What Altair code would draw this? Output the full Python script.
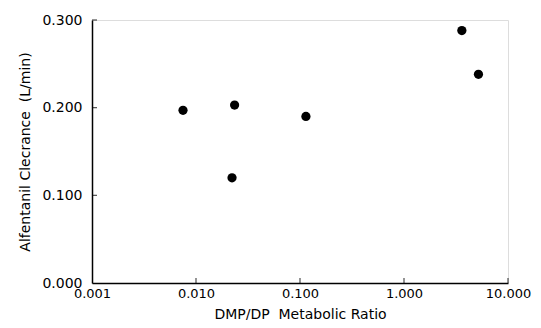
import altair as alt
import pandas as pd

ratio = [0.0075, 0.0235, 0.0222, 0.114, 3.6, 5.2]
clearance = [0.197, 0.203, 0.120, 0.190, 0.288, 0.238]
x_ticks = [0.001, 0.01, 0.1, 1.0, 10.0]
y_ticks = [0.0, 0.1, 0.2, 0.3]

df = pd.DataFrame({"ratio": ratio, "clearance": clearance})
xt = pd.DataFrame({"t": x_ticks[1:]})
yt = pd.DataFrame({"t": y_ticks[1:]})

W, H = 416, 263
FONT = "DejaVu Sans"

xscale = alt.Scale(type="log", domain=[0.001, 10])
yscale = alt.Scale(domain=[0, 0.3])

xaxis = alt.Axis(values=x_ticks, format=".3f", grid=False, tickSize=0, labelPadding=4,
                 domainColor="black", domainWidth=1.5, labelColor="black", labelFont=FONT,
                 labelFontSize=13, title="DMP/DP\u00a0\u00a0Metabolic Ratio", titleFont=FONT,
                 titleFontSize=14, titleFontWeight="normal", titleColor="black", titlePadding=7,
                 labelFlush=False)
yaxis = alt.Axis(values=y_ticks, format=".3f", grid=False, tickSize=0, labelPadding=10,
                 domainColor="black", domainWidth=1.5, labelColor="black", labelFont=FONT,
                 labelFontSize=14, title="Alfentanil Clecrance\u00a0\u00a0(L/min)", titleFont=FONT,
                 titleFontSize=14, titleFontWeight="normal", titleColor="black", titlePadding=9)

pts = alt.Chart(df).mark_circle(size=85, color="black", opacity=1).encode(
    x=alt.X("ratio:Q", scale=xscale, axis=xaxis),
    y=alt.Y("clearance:Q", scale=yscale, axis=yaxis),
)

xtick = alt.Chart(xt).mark_tick(color="black", size=5, thickness=1.2, orient="vertical").encode(
    x=alt.X("t:Q", scale=xscale), y=alt.value(H - 2.5)
)
ytick = alt.Chart(yt).mark_tick(color="black", size=5, thickness=1.2, orient="horizontal").encode(
    y=alt.Y("t:Q", scale=yscale), x=alt.value(2.5)
)

chart = alt.layer(pts, xtick, ytick).properties(
    width=W, height=H,
    autosize=alt.AutoSizeParams(type="none"),
    padding={"left": 84, "top": 12, "right": 25, "bottom": 37},
).configure_view(stroke=None).configure(background="white")

chart.save("out.html", embed_options={"renderer": "svg", "actions": False})
